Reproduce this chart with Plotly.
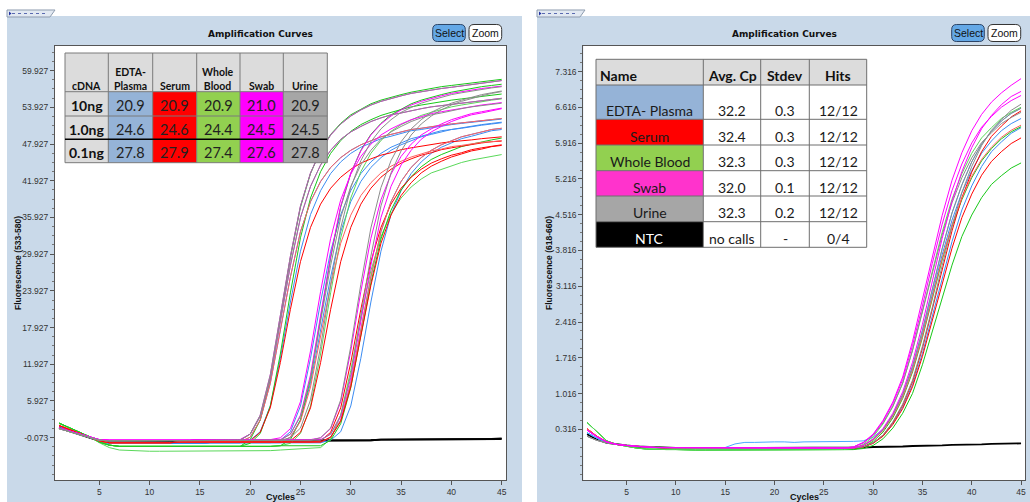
import plotly.graph_objects as go

# ============================ DATA ============================
cycles = list(range(1, 46))

x_tickvals = [5, 10, 15, 20, 25, 30, 35, 40, 45]
left_y_tickvals = [-0.073, 5.927, 11.927, 17.927, 23.927, 29.927, 35.927, 41.927, 47.927, 53.927, 59.927]
left_y_ticktext = ["-0.073", "5.927", "11.927", "17.927", "23.927", "29.927", "35.927", "41.927", "47.927", "53.927", "59.927"]
right_y_tickvals = [0.316, 1.016, 1.716, 2.416, 3.116, 3.816, 4.516, 5.216, 5.916, 6.616, 7.316]
right_y_ticktext = ["0.316", "1.016", "1.716", "2.416", "3.116", "3.816", "4.516", "5.216", "5.916", "6.616", "7.316"]

# --- left panel (533-580): baseline segments (cycles 1..27) ---
base_left_blue = [1.8, 1.2, 0.6, 0.0, -0.6, -1.0, -1.0, -1.1, -1.1, -1.0, -1.0, -1.0, -1.1, -1.0, -1.0,
                  -0.9, -0.9, -0.9, -0.9, -0.9, -0.9, -0.9, -0.9, -0.9, -0.9, -0.9, -0.9]
base_left_red = [1.9, 1.3, 0.6, 0.0, -0.6, -0.9, -0.9, -0.9, -1.0, -1.0, -0.9, -0.9, -0.8, -0.8, -0.7,
                 -0.7, -0.7, -0.7, -0.7, -0.8, -0.8, -0.8, -0.8, -0.8, -0.8, -0.8, -0.8]
base_left_green = [2.3, 1.6, 0.8, 0.1, -0.8, -1.3, -1.5, -1.5, -1.6, -1.6, -1.5, -1.5, -1.5, -1.6, -1.6,
                   -1.5, -1.5, -1.5, -1.5, -1.5, -1.5, -1.5, -1.4, -1.4, -1.4, -1.4, -1.4]
base_left_green_low = [2.2, 1.5, 0.8, 0.1, -0.9, -1.7, -2.1, -2.2, -2.3, -2.3, -2.3, -2.3, -2.3, -2.3, -2.3,
                       -2.3, -2.3, -2.3, -2.3, -2.2, -2.2, -2.2, -2.1, -2.0, -1.9, -1.8, -1.8]
base_left_magenta = [1.5, 1.0, 0.5, 0.0, -0.4, -0.5, -0.5, -0.5, -0.6, -0.6, -0.5, -0.5, -0.5, -0.5, -0.4,
                     -0.4, -0.4, -0.4, -0.4, -0.4, -0.4, -0.4, -0.4, -0.4, -0.4, -0.4, -0.4]
base_left_gray = [1.4, 0.9, 0.4, -0.1, -0.5, -0.6, -0.6, -0.6, -0.6, -0.6, -0.6, -0.6, -0.6, -0.6, -0.6,
                  -0.5, -0.5, -0.5, -0.5, -0.5, -0.5, -0.5, -0.5, -0.5, -0.5, -0.5, -0.5]

# --- left panel: amplification segments (from take-off cycle onward) ---
rise_hi_a = [-0.1, 1.5, 6.1, 14.8, 25.0, 34.2, 40.8, 45.2, 48.3, 50.4, 51.9, 53.1, 53.9, 54.6, 55.1, 55.6,
             56.0, 56.3, 56.6, 56.9, 57.1, 57.3, 57.5, 57.7, 58.0, 58.2, 58.4]
rise_hi_b = [0.5, 3.6, 10.2, 19.9, 29.6, 37.8, 43.2, 46.8, 49.4, 51.2, 52.5, 53.5, 54.3, 54.9, 55.4, 55.8,
             56.2, 56.5, 56.8, 57.0, 57.2, 57.4, 57.6, 57.8, 58.1, 58.3, 58.5]
rise_mid_a = [-0.1, 1.4, 5.8, 14.1, 23.8, 32.5, 38.8, 43.0, 45.9, 47.9, 49.4, 50.4, 51.2, 51.9, 52.4, 52.9,
              53.2, 53.5, 53.8, 54.1, 54.3, 54.5, 54.7, 54.9, 55.1, 55.3, 55.5]
rise_mid_b = [0.5, 3.4, 9.7, 18.9, 28.1, 35.9, 41.0, 44.5, 46.9, 48.7, 49.9, 50.8, 51.6, 52.2, 52.7, 53.0,
              53.4, 53.7, 54.0, 54.2, 54.4, 54.6, 54.8, 55.0, 55.2, 55.4, 55.6]
rise_lo_a = [-0.5, 0.9, 5.1, 12.9, 22.1, 30.4, 36.4, 40.3, 43.1, 45.0, 46.4, 47.4, 48.1, 48.8, 49.2, 49.7,
             50.1, 50.3, 50.6, 50.9, 51.1, 51.3, 51.5, 51.6, 51.8, 52.0, 52.2]
rise_lo_b = [0.0, 2.8, 8.8, 17.5, 26.2, 33.6, 38.5, 41.8, 44.1, 45.7, 46.9, 47.8, 48.5, 49.1, 49.5, 49.9,
             50.3, 50.5, 50.8, 51.0, 51.2, 51.4, 51.5, 51.7, 51.9, 52.1, 52.3]
rise_low_a = [-0.6, 0.8, 4.8, 12.2, 20.9, 28.7, 34.3, 38.1, 40.7, 42.5, 43.8, 44.8, 45.5, 46.1, 46.5, 47.0,
              47.3, 47.6, 47.8, 48.1, 48.3, 48.4, 48.6, 48.8, 49.0, 49.1, 49.3]
rise_low_b = [0.0, 2.6, 8.2, 16.5, 24.8, 31.7, 36.3, 39.5, 41.6, 43.2, 44.3, 45.1, 45.8, 46.3, 46.8, 47.1,
              47.5, 47.7, 48.0, 48.2, 48.3, 48.5, 48.7, 48.9, 49.0, 49.2, 49.4]
rise_gr_a = [-1.0, 0.6, 5.1, 13.6, 23.6, 32.6, 39.1, 43.4, 46.4, 48.5, 50.0, 51.1, 51.9, 52.6, 53.1, 53.6,
             54.0, 54.3, 54.6, 54.9, 55.1, 55.3, 55.5, 55.7, 55.9, 56.1, 56.3]
rise_gr_b = [-0.4, 2.8, 9.5, 19.4, 29.3, 37.6, 43.1, 46.9, 49.5, 51.3, 52.7, 53.6, 54.5, 55.1, 55.6, 56.0,
             56.4, 56.7, 57.1, 57.3, 57.5, 57.7, 57.9, 58.1, 58.3, 58.5, 58.7]
rise_gr_c = [-0.5, 2.2, 8.1, 16.6, 25.2, 32.4, 37.1, 40.4, 42.6, 44.2, 45.4, 46.2, 46.9, 47.5, 47.9, 48.3,
             48.6, 48.9, 49.2, 49.4, 49.5, 49.7, 49.9, 50.1, 50.3, 50.4, 50.6]
rise_gr_low = [-1.7, -0.3, 3.6, 10.9, 19.5, 27.2, 32.8, 36.5, 39.1, 40.9, 42.2, 43.2, 43.8, 44.4, 44.9, 45.3,
               45.6, 45.9, 46.2]

ntc_left_1 = [1.6, 1.1, 0.5, 0.0, -0.5, -0.7, -0.7, -0.7, -0.8, -0.8, -0.8, -0.8, -0.7, -0.7, -0.7, -0.7,
              -0.7, -0.7, -0.6, -0.6, -0.6, -0.6, -0.6, -0.6, -0.6, -0.5, -0.5, -0.5, -0.5, -0.5, -0.5,
              -0.5, -0.4, -0.4, -0.4, -0.4, -0.4, -0.4, -0.4, -0.3, -0.3, -0.3, -0.3, -0.3, -0.3]
ntc_left_2 = [1.5, 1.0, 0.4, -0.1, -0.6, -0.7, -0.8, -0.8, -0.8, -0.8, -0.7, -0.7, -0.7, -0.7, -0.7, -0.7,
              -0.6, -0.6, -0.6, -0.6, -0.6, -0.6, -0.6, -0.6, -0.5, -0.5, -0.5, -0.5, -0.5, -0.5, -0.5,
              -0.5, -0.4, -0.4, -0.4, -0.4, -0.4, -0.4, -0.4, -0.4, -0.3, -0.3, -0.3, -0.3, -0.2]

# --- right panel (618-660): baseline segments (cycles 1..27) ---
base_right_magenta = [0.30, 0.17, 0.07, 0.02, 0.0, -0.02, -0.03, -0.04, -0.04, -0.05, -0.05, -0.05, -0.05,
                      -0.05, -0.05, -0.05, -0.05, -0.05, -0.05, -0.05, -0.05, -0.05, -0.05, -0.05, -0.05,
                      -0.05, -0.05]
base_right_green = [0.45, 0.26, 0.09, 0.02, -0.02, -0.05, -0.07, -0.08, -0.08, -0.08, -0.09, -0.09, -0.09,
                    -0.09, -0.09, -0.08, -0.08, -0.08, -0.09, -0.09, -0.09, -0.08, -0.08, -0.08, -0.08,
                    -0.08, -0.08]
base_right_gray = [0.18, 0.10, 0.05, 0.02, 0.0, -0.02, -0.03, -0.04, -0.05, -0.05, -0.05, -0.05, -0.05,
                   -0.05, -0.05, -0.05, -0.05, -0.05, -0.05, -0.05, -0.05, -0.05, -0.05, -0.05, -0.05,
                   -0.05, -0.05]
base_right_red = [0.33, 0.18, 0.07, 0.02, 0.0, -0.02, -0.03, -0.04, -0.05, -0.05, -0.05, -0.05, -0.05,
                  -0.05, -0.05, -0.05, -0.05, -0.05, -0.05, -0.05, -0.05, -0.05, -0.05, -0.05, -0.05,
                  -0.05, -0.05]
base_right_blue = [0.25, 0.14, 0.06, 0.02, 0.0, -0.02, -0.03, -0.04, -0.05, -0.05, -0.05, -0.05, -0.05,
                   -0.05, -0.05, -0.05, -0.05, -0.05, -0.05, -0.05, -0.05, -0.05, -0.05, -0.05, -0.05,
                   -0.05, -0.05]
base_right_blue_high = [0.25, 0.14, 0.06, 0.02, 0.0, -0.02, -0.03, -0.04, -0.05, -0.05, -0.05, -0.05, -0.05,
                        -0.05, -0.04, 0.03, 0.06, 0.06, 0.07, 0.07, 0.07, 0.06, 0.07, 0.07, 0.08, 0.08, 0.08]

# --- right panel: amplification segments (cycles 28..45) ---
r_plasma_1 = [-0.05, 0.0, 0.11, 0.30, 0.58, 0.97, 1.50, 2.18, 2.96, 3.73, 4.41, 4.95, 5.38, 5.72, 5.96, 6.16, 6.30, 6.40]
r_plasma_2 = [-0.05, -0.03, 0.05, 0.19, 0.43, 0.75, 1.19, 1.80, 2.52, 3.28, 3.99, 4.61, 5.08, 5.46, 5.75, 5.94, 6.11, 6.22]
r_plasma_3 = [0.08, 0.09, 0.16, 0.32, 0.60, 1.00, 1.55, 2.25, 3.05, 3.85, 4.55, 5.10, 5.55, 5.90, 6.15, 6.35, 6.50, 6.60]
r_serum_1 = [-0.05, -0.03, 0.05, 0.20, 0.45, 0.79, 1.25, 1.90, 2.65, 3.45, 4.20, 4.85, 5.35, 5.75, 6.05, 6.25, 6.43, 6.55]
r_serum_2 = [-0.05, -0.03, 0.04, 0.18, 0.41, 0.72, 1.15, 1.74, 2.43, 3.17, 3.86, 4.46, 4.92, 5.29, 5.56, 5.75, 5.91, 6.02]
r_serum_3 = [-0.05, 0.0, 0.11, 0.29, 0.57, 0.95, 1.47, 2.14, 2.90, 3.66, 4.32, 4.84, 5.27, 5.60, 5.84, 6.03, 6.17, 6.27]
r_blood_1 = [-0.08, -0.06, 0.0, 0.13, 0.34, 0.63, 1.02, 1.58, 2.22, 2.90, 3.53, 4.09, 4.51, 4.85, 5.11, 5.28, 5.43, 5.53]
r_blood_2 = [-0.08, -0.03, 0.08, 0.26, 0.54, 0.92, 1.44, 2.11, 2.87, 3.63, 4.29, 4.81, 5.24, 5.57, 5.81, 6.00, 6.14, 6.24]
r_blood_3 = [-0.06, 0.02, 0.17, 0.42, 0.76, 1.22, 1.87, 2.62, 3.42, 4.17, 4.82, 5.32, 5.72, 6.02, 6.22, 6.40, 6.52, 6.62]
r_swab_1 = [-0.03, 0.06, 0.22, 0.49, 0.85, 1.34, 2.04, 2.84, 3.70, 4.50, 5.19, 5.73, 6.16, 6.48, 6.72, 6.90, 7.05, 7.18]
r_swab_2 = [-0.03, 0.05, 0.21, 0.47, 0.82, 1.29, 1.96, 2.73, 3.56, 4.33, 4.99, 5.51, 5.92, 6.23, 6.44, 6.62, 6.75, 6.85]
r_swab_3 = [-0.05, 0.0, 0.13, 0.33, 0.63, 1.05, 1.63, 2.37, 3.21, 4.05, 4.78, 5.36, 5.83, 6.20, 6.46, 6.67, 6.83, 6.93]
r_urine_1 = [-0.05, 0.0, 0.12, 0.31, 0.60, 1.00, 1.55, 2.25, 3.05, 3.85, 4.55, 5.10, 5.55, 5.90, 6.15, 6.35, 6.50, 6.60]
r_urine_2 = [-0.03, 0.05, 0.20, 0.44, 0.77, 1.22, 1.86, 2.60, 3.38, 4.12, 4.75, 5.24, 5.63, 5.93, 6.12, 6.30, 6.42, 6.52]
r_urine_3 = [-0.05, -0.03, 0.05, 0.20, 0.46, 0.81, 1.28, 1.94, 2.70, 3.52, 4.29, 4.95, 5.46, 5.87, 6.17, 6.38, 6.56, 6.68]

ntc_right = [0.22, 0.12, 0.05, 0.02, 0.0, -0.02, -0.03, -0.04, -0.05, -0.05, -0.05, -0.05, -0.05, -0.05,
             -0.05, -0.05, -0.05, -0.05, -0.05, -0.05, -0.05, -0.05, -0.05, -0.05, -0.05, -0.05, -0.05,
             -0.04, -0.04, -0.03, -0.03, -0.02, -0.02, -0.01, -0.01, 0.0, 0.0, 0.01, 0.01, 0.02, 0.02,
             0.03, 0.03, 0.04, 0.04]

# --- tables ---
left_table_header = ["cDNA", "EDTA-<br>Plasma", "Serum", "Whole<br>Blood", "Swab", "Urine"]
left_table_rows = ["10ng", "1.0ng", "0.1ng"]
left_table_cp = [[20.9, 20.9, 20.9, 21.0, 20.9],
                 [24.6, 24.6, 24.4, 24.5, 24.5],
                 [27.8, 27.9, 27.4, 27.6, 27.8]]
right_table_header = ["Name", "Avg. Cp", "Stdev", "Hits"]
right_names = ["EDTA- Plasma", "Serum", "Whole Blood", "Swab", "Urine", "NTC"]
right_avg_cp = ["32.2", "32.4", "32.3", "32.0", "32.3", "no calls"]
right_stdev = ["0.3", "0.3", "0.3", "0.1", "0.2", "-"]
right_hits = ["12/12", "12/12", "12/12", "12/12", "12/12", "0/4"]

# ============================ STYLE / BUILD ============================
W, H = 1030, 502
C_BLUE, C_RED, C_GREEN, C_MAG, C_GRAY = "#3b8cf2", "#ff0000", "#19c819", "#ff00ff", "#8c8c8c"
C_LRED, C_LGREEN = "#ff6060", "#5ad85a"

# (colour, baseline, first amplification cycle, amplification segment)
left_curves = [
    (C_BLUE, base_left_blue, 20, rise_lo_a), (C_BLUE, base_left_blue, 20, rise_lo_b),
    (C_BLUE, base_left_blue, 23, rise_lo_a), (C_BLUE, base_left_blue, 24, rise_lo_b),
    (C_BLUE, base_left_blue, 28, rise_lo_b), (C_BLUE, base_left_blue, 28, rise_lo_a),
    (C_GREEN, base_left_green, 20, rise_gr_b), (C_GREEN, base_left_green, 20, rise_gr_a),
    (C_GREEN, base_left_green, 24, rise_gr_b), (C_LGREEN, base_left_green, 24, rise_gr_a),
    (C_LGREEN, base_left_green_low, 27, rise_gr_low), (C_GREEN, base_left_green, 28, rise_gr_c),
    (C_RED, base_left_red, 20, rise_low_a), (C_LRED, base_left_red, 20, rise_lo_b),
    (C_RED, base_left_red, 24, rise_low_a), (C_LRED, base_left_red, 24, rise_low_b),
    (C_RED, base_left_red, 27, rise_low_a), (C_LRED, base_left_red, 28, rise_lo_b),
    (C_RED, base_left_red, 28, rise_low_b),
    (C_MAG, base_left_magenta, 20, rise_mid_b), (C_MAG, base_left_magenta, 20, rise_hi_b),
    (C_MAG, base_left_magenta, 23, rise_mid_a), (C_MAG, base_left_magenta, 24, rise_hi_b),
    (C_MAG, base_left_magenta, 27, rise_mid_a), (C_MAG, base_left_magenta, 28, rise_mid_b),
    (C_GRAY, base_left_gray, 20, rise_hi_b), (C_GRAY, base_left_gray, 20, rise_mid_b),
    (C_GRAY, base_left_gray, 24, rise_hi_a), (C_GRAY, base_left_gray, 24, rise_mid_b),
    (C_GRAY, base_left_gray, 27, rise_hi_a), (C_GRAY, base_left_gray, 28, rise_hi_b),
]
right_curves = [
    (C_BLUE, base_right_blue, 28, r_plasma_1), (C_BLUE, base_right_blue, 28, r_plasma_2),
    ("#4aa8ff", base_right_blue_high, 28, r_plasma_3),
    (C_GREEN, base_right_green, 28, r_blood_1), (C_GREEN, base_right_green, 28, r_blood_2),
    (C_LGREEN, base_right_green, 28, r_blood_3),
    (C_RED, base_right_red, 28, r_serum_1), (C_RED, base_right_red, 28, r_serum_2),
    (C_LRED, base_right_red, 28, r_serum_3),
    (C_GRAY, base_right_gray, 28, r_urine_1), (C_GRAY, base_right_gray, 28, r_urine_2),
    (C_GRAY, base_right_gray, 28, r_urine_3),
    (C_MAG, base_right_magenta, 28, r_swab_1), (C_MAG, base_right_magenta, 28, r_swab_2),
    (C_MAG, base_right_magenta, 28, r_swab_3),
]


def px(x):
    return x / W


def py(y):
    return 1 - y / H


fig = go.Figure()


def add_line(y, color, axis, width=1.0):
    xa, ya = axis
    fig.add_trace(go.Scatter(x=cycles[:len(y)], y=y, mode="lines", line=dict(color=color, width=width),
                             xaxis=xa, yaxis=ya, hoverinfo="skip", showlegend=False))


for y in (ntc_left_1, ntc_left_2):
    add_line(y, "#000000", ("x", "y"), 1.8)
for color, base, first, rise in left_curves:
    add_line((base[:first - 1] + rise)[:45], color, ("x", "y"))
add_line(ntc_right, "#000000", ("x2", "y2"), 1.8)
for color, base, first, rise in right_curves:
    add_line((base[:first - 1] + rise)[:45], color, ("x2", "y2"))

shapes, anns = [], []


def rect(x0, y0, x1, y1, fill, line_color=None, lw=1, layer="above"):
    shapes.append(dict(type="rect", xref="paper", yref="paper", x0=px(x0), x1=px(x1), y0=py(y1), y1=py(y0),
                       fillcolor=fill, line=dict(color=line_color or "rgba(0,0,0,0)", width=lw if line_color else 0),
                       layer=layer))


def hline(x0, x1, y, color, lw=1):
    shapes.append(dict(type="line", xref="paper", yref="paper", x0=px(x0), x1=px(x1), y0=py(y), y1=py(y),
                       line=dict(color=color, width=lw), layer="above"))


def vline(x, y0, y1, color, lw=1):
    shapes.append(dict(type="line", xref="paper", yref="paper", x0=px(x), x1=px(x), y0=py(y0), y1=py(y1),
                       line=dict(color=color, width=lw), layer="above"))


def rrect(x0, y0, x1, y1, r, fill, line_color):
    X = lambda v: f"{px(v):.5f}"
    Y = lambda v: f"{py(v):.5f}"
    p = (f"M {X(x0 + r)},{Y(y0)} L {X(x1 - r)},{Y(y0)} Q {X(x1)},{Y(y0)} {X(x1)},{Y(y0 + r)} "
         f"L {X(x1)},{Y(y1 - r)} Q {X(x1)},{Y(y1)} {X(x1 - r)},{Y(y1)} L {X(x0 + r)},{Y(y1)} "
         f"Q {X(x0)},{Y(y1)} {X(x0)},{Y(y1 - r)} L {X(x0)},{Y(y0 + r)} Q {X(x0)},{Y(y0)} {X(x0 + r)},{Y(y0)} Z")
    shapes.append(dict(type="path", xref="paper", yref="paper", path=p, fillcolor=fill,
                       line=dict(color=line_color, width=1), layer="above"))


def txt(x, y, s, size, color="#111111", family="Lato", xanchor="center", yanchor="middle", angle=0):
    anns.append(dict(x=px(x), y=py(y), xref="paper", yref="paper", text=s, showarrow=False,
                     font=dict(family=family, size=size, color=color), xanchor=xanchor, yanchor=yanchor,
                     textangle=angle))


PANEL = "#c9d9e9"
# panels
rect(7, 16, 522, 502, PANEL, layer="below")
rect(537, 16, 1030, 502, PANEL, layer="below")
rect(55, 45.7, 506, 480, "#ffffff", layer="below")
rect(583.3, 45.7, 1025, 480, "#ffffff", layer="below")

# tabs
for tx in (7, 537):
    X = lambda v: f"{px(v):.5f}"
    Y = lambda v: f"{py(v):.5f}"
    shapes.append(dict(type="path", xref="paper", yref="paper",
                       path=f"M {X(tx)},{Y(17)} L {X(tx)},{Y(10)} L {X(tx + 48)},{Y(10)} L {X(tx + 43)},{Y(17)} Z",
                       fillcolor="#e2e9f2", line=dict(color="#8e9db0", width=1), layer="below"))
    shapes.append(dict(type="line", xref="paper", yref="paper", x0=px(tx + 5), x1=px(tx + 40), y0=py(13.5),
                       y1=py(13.5), line=dict(color="#5a6ab0", width=1, dash="dot"), layer="below"))
    shapes.append(dict(type="path", xref="paper", yref="paper",
                       path=f"M {X(tx + 2)},{Y(11.5)} L {X(tx + 4.5)},{Y(13.5)} L {X(tx + 2)},{Y(15.5)} Z",
                       fillcolor="#2030a0", line=dict(width=0), layer="below"))

# titles, buttons, axis titles
for cx, bx, ax_c in ((260, 432.7, 280.5), (784, 951.7, 804)):
    txt(cx, 34.5, "<b>Amplification Curves</b>", 9, family="DejaVu Sans")
    rrect(bx, 24.5, bx + 32.6, 41.5, 5, "#64a8e6", "#2c4466")
    rrect(bx + 36.3, 24.5, bx + 69, 41.5, 5, "#ffffff", "#333333")
    txt(bx + 16.3, 33, "Select", 10.5, family="Liberation Sans")
    txt(bx + 52.6, 33, "Zoom", 10.5, family="Liberation Sans")
    txt(ax_c, 497, "<b>Cycles</b>", 9, family="Liberation Sans")
txt(18, 263, "<b>Fluorescence (533-580)</b>", 8.5, family="Liberation Sans", angle=-90)
txt(549, 263, "<b>Fluorescence (618-660)</b>", 8.5, family="Liberation Sans", angle=-90)

# ---- left table ----
matrix_fill = ["#95b3d7", "#ff0000", "#92d050", "#ff00ff", "#a6a6a6"]
lcx = [65, 108.3, 152.7, 196.7, 240, 283.3, 327.3]
lry = [53, 91.7, 116, 139.3, 162.7]
rect(lcx[0], lry[0], lcx[-1], lry[1], "#dcdcdc")
for r in range(3):
    rect(lcx[0], lry[r + 1], lcx[1], lry[r + 2], "#dcdcdc")
    for c in range(5):
        rect(lcx[c + 1], lry[r + 1], lcx[c + 2], lry[r + 2], matrix_fill[c])
for xv in lcx:
    vline(xv, lry[0], lry[-1], "#7a7a7a")
for i, yv in enumerate(lry):
    hline(lcx[0], lcx[-1], yv, "#000000" if i == 3 else "#7a7a7a", 1.5 if i == 3 else 1)
for c, h in enumerate(left_table_header):
    cxm = (lcx[c] + lcx[c + 1]) / 2
    txt(cxm, 79 if "<br>" in h else 86, f"<b>{h}</b>", 10.5)
for r, lab in enumerate(left_table_rows):
    ym = (lry[r + 1] + lry[r + 2]) / 2 + 2
    txt((lcx[0] + lcx[1]) / 2, ym, f"<b>{lab}</b>", 14)
    for c in range(5):
        txt((lcx[c + 1] + lcx[c + 2]) / 2, ym, f"{left_table_cp[r][c]:.1f}", 14.5, color="#222222")

# ---- right table ----
name_fill = ["#95b3d7", "#ff0000", "#92d050", "#ff33cc", "#a6a6a6", "#000000"]
rcx = [596, 703.3, 760.7, 809.3, 866.7]
rry = [59.3, 85, 119.3, 145, 170.7, 196, 221.7, 247.3]
rect(rcx[0], rry[0], rcx[-1], rry[1], "#dcdcdc")
for r in range(6):
    rect(rcx[0], rry[r + 1], rcx[1], rry[r + 2], name_fill[r])
    rect(rcx[1], rry[r + 1], rcx[-1], rry[r + 2], "#ffffff")
for xv in rcx:
    vline(xv, rry[0], rry[-1], "#6e6e6e")
for yv in rry:
    hline(rcx[0], rcx[-1], yv, "#6e6e6e")
txt(rcx[0] + 2, 76, f"<b>{right_table_header[0]}</b>", 14, xanchor="left")
for c in range(1, 4):
    txt((rcx[c] + rcx[c + 1]) / 2, 76, f"<b>{right_table_header[c]}</b>", 14)
for r in range(6):
    ym = rry[r + 2] - 9
    txt((rcx[0] + rcx[1]) / 2, ym, right_names[r], 14, color="#ffffff" if r == 5 else "#1a1a1a")
    for c, col in enumerate((right_avg_cp, right_stdev, right_hits)):
        txt((rcx[c + 1] + rcx[c + 2]) / 2, ym, col[r], 14, color="#1a1a1a")

# ---- axes ----
tickfont = dict(family="Liberation Sans", size=8.5, color="#333333")
common = dict(showgrid=False, zeroline=False, showline=True, mirror=True, linecolor="#555555", linewidth=1,
              ticks="outside", ticklen=4, tickwidth=1, tickcolor="#555555", tickfont=tickfont, fixedrange=True)

fig.update_layout(
    width=W, height=H, margin=dict(l=0, r=0, t=0, b=0),
    paper_bgcolor="#ffffff", plot_bgcolor="rgba(0,0,0,0)", showlegend=False,
    xaxis=dict(domain=[px(55), px(506)], range=[0.6, 45.43], anchor="y", tickmode="array",
               tickvals=x_tickvals, **common),
    yaxis=dict(domain=[py(480), py(45.7)], range=[-7.0, 64.0], anchor="x", tickmode="array",
               tickvals=left_y_tickvals, ticktext=left_y_ticktext,
               minor=dict(tickmode="linear", tick0=-0.073, dtick=1.5, ticks="outside", ticklen=2,
                          tickcolor="#777777"), **common),
    xaxis2=dict(domain=[px(583.3), px(1025)], range=[0.62, 45.4], anchor="y2", tickmode="array",
                tickvals=x_tickvals, **common),
    yaxis2=dict(domain=[py(480), py(45.7)], range=[-0.676, 7.825], anchor="x2", tickmode="array",
                tickvals=right_y_tickvals, ticktext=right_y_ticktext,
                minor=dict(tickmode="linear", tick0=0.316, dtick=0.175, ticks="outside", ticklen=2,
                           tickcolor="#777777"), **common),
    shapes=shapes, annotations=anns,
)

fig.write_html("out.html", config={"displayModeBar": False},
               post_script="document.body.style.margin='0';document.body.style.padding='0';")
